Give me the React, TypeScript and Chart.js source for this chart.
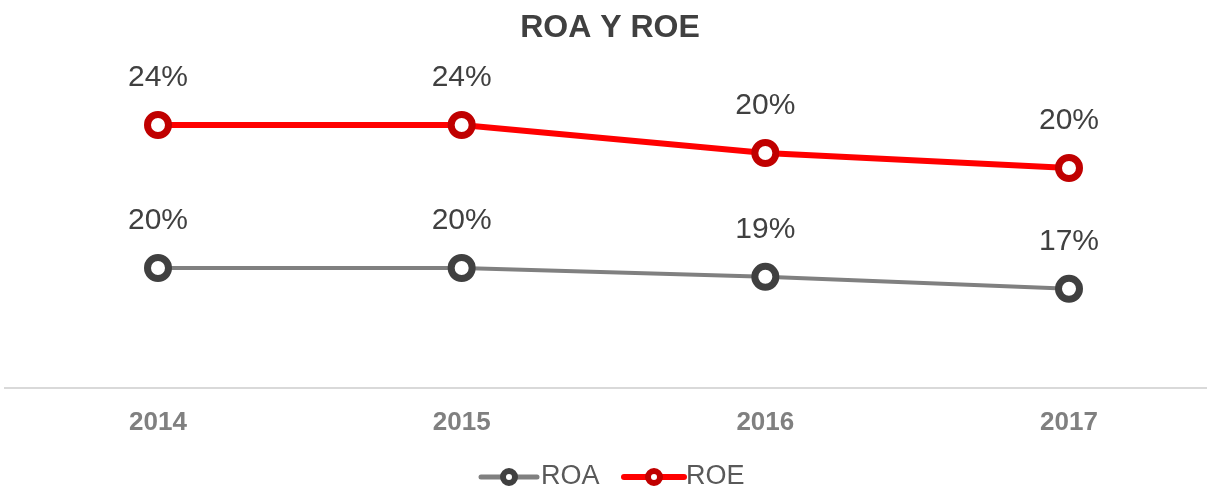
import React, { useEffect, useRef } from "react";
import { Chart, registerables } from "chart.js";

Chart.register(...registerables);

const categories = ["2014", "2015", "2016", "2017"];
const roaValues = [20, 20, 18.9, 17.4];
const roeValues = [24, 24, 21.2, 19.7];
const roaLabels = ["20%", "20%", "19%", "17%"];
const roeLabels = ["24%", "24%", "20%", "20%"];
const seriesNames = ["ROA", "ROE"];
const chartTitle = "ROA Y ROE";

const FONT = "'Liberation Sans', Arial, sans-serif";

export default function App() {
  const ref = useRef<HTMLCanvasElement | null>(null);

  useEffect(() => {
    if (!ref.current) return;
    const labelSets = [roaLabels, roeLabels];

    const axisLinePlugin = {
      id: "axisLine",
      beforeDatasetsDraw(chart: any) {
        const ctx = chart.ctx;
        const y = chart.chartArea.bottom;
        ctx.save();
        ctx.strokeStyle = "#d9d9d9";
        ctx.lineWidth = 2;
        ctx.beginPath();
        ctx.moveTo(4, y);
        ctx.lineTo(chart.width, y);
        ctx.stroke();
        ctx.restore();
      },
    };

    const labelsPlugin = {
      id: "pointLabels",
      afterDatasetsDraw(chart: any) {
        const ctx = chart.ctx;
        ctx.save();
        ctx.font = `30px ${FONT}`;
        ctx.fillStyle = "#404040";
        ctx.textAlign = "center";
        ctx.textBaseline = "middle";
        chart.data.datasets.forEach((_ds: any, di: number) => {
          const meta = chart.getDatasetMeta(di);
          meta.data.forEach((pt: any, i: number) => {
            ctx.fillText(labelSets[di][i], pt.x, pt.y - 47);
          });
        });
        ctx.restore();
      },
    };

    const titleLegendPlugin = {
      id: "titleLegend",
      afterDraw(chart: any) {
        const ctx = chart.ctx;
        ctx.save();
        ctx.font = `bold 32px ${FONT}`;
        ctx.fillStyle = "#404040";
        ctx.textAlign = "center";
        ctx.textBaseline = "middle";
        ctx.fillText(chartTitle, 610, 28);

        const items = [
          { x0: 481, x1: 537, mx: 509, line: "#808080", mark: "#404040", lw: 5, tx: 541 },
          { x0: 624, x1: 684, mx: 654, line: "#ff0000", mark: "#c00000", lw: 6, tx: 686 },
        ];
        const ly = 477;
        items.forEach((it, i) => {
          ctx.strokeStyle = it.line;
          ctx.lineWidth = it.lw;
          ctx.lineCap = "round";
          ctx.beginPath();
          ctx.moveTo(it.x0, ly);
          ctx.lineTo(it.x1, ly);
          ctx.stroke();
          ctx.beginPath();
          ctx.arc(it.mx, ly, 6, 0, Math.PI * 2);
          ctx.fillStyle = "#ffffff";
          ctx.fill();
          ctx.strokeStyle = it.mark;
          ctx.lineWidth = 6;
          ctx.stroke();
          ctx.font = `27px ${FONT}`;
          ctx.fillStyle = "#595959";
          ctx.textAlign = "left";
          ctx.textBaseline = "middle";
          ctx.fillText(seriesNames[i], it.tx, ly);
        });
        ctx.restore();
      },
    };

    const chart = new Chart(ref.current, {
      type: "line",
      data: {
        labels: categories,
        datasets: [
          {
            label: seriesNames[0],
            data: roaValues,
            yAxisID: "yRoa",
            borderColor: "#808080",
            borderWidth: 4,
            pointRadius: 10.5,
            pointBorderWidth: 7,
            pointBorderColor: "#404040",
            pointBackgroundColor: "#ffffff",
            tension: 0,
            clip: false,
          },
          {
            label: seriesNames[1],
            data: roeValues,
            yAxisID: "yRoe",
            borderColor: "#ff0000",
            borderWidth: 6,
            pointRadius: 10.5,
            pointBorderWidth: 7,
            pointBorderColor: "#c00000",
            pointBackgroundColor: "#ffffff",
            tension: 0,
            clip: false,
          },
        ],
      },
      options: {
        responsive: false,
        animation: false,
        layout: { padding: { top: 40, left: 158, right: 138, bottom: 0 } },
        plugins: {
          legend: { display: false },
          title: { display: false },
          tooltip: { enabled: false },
        },
        scales: {
          x: {
            grid: { display: false, drawTicks: false },
            border: { display: false },
            ticks: {
              padding: 19,
              color: "#808080",
              font: { family: FONT, size: 26, weight: "bold" },
            },
            afterFit: (scale: any) => {
              scale.height = 105;
            },
          },
          yRoe: { display: false, min: -2.3, max: 32.5 },
          yRoa: { display: false, min: 5, max: 48.5 },
        },
      },
      plugins: [axisLinePlugin, labelsPlugin, titleLegendPlugin],
    });
    return () => chart.destroy();
  }, []);

  return (
    <div style={{ position: "fixed", left: 0, top: 0, background: "#fff" }}>
      <canvas ref={ref} width={1207} height={493} style={{ display: "block" }} />
    </div>
  );
}
